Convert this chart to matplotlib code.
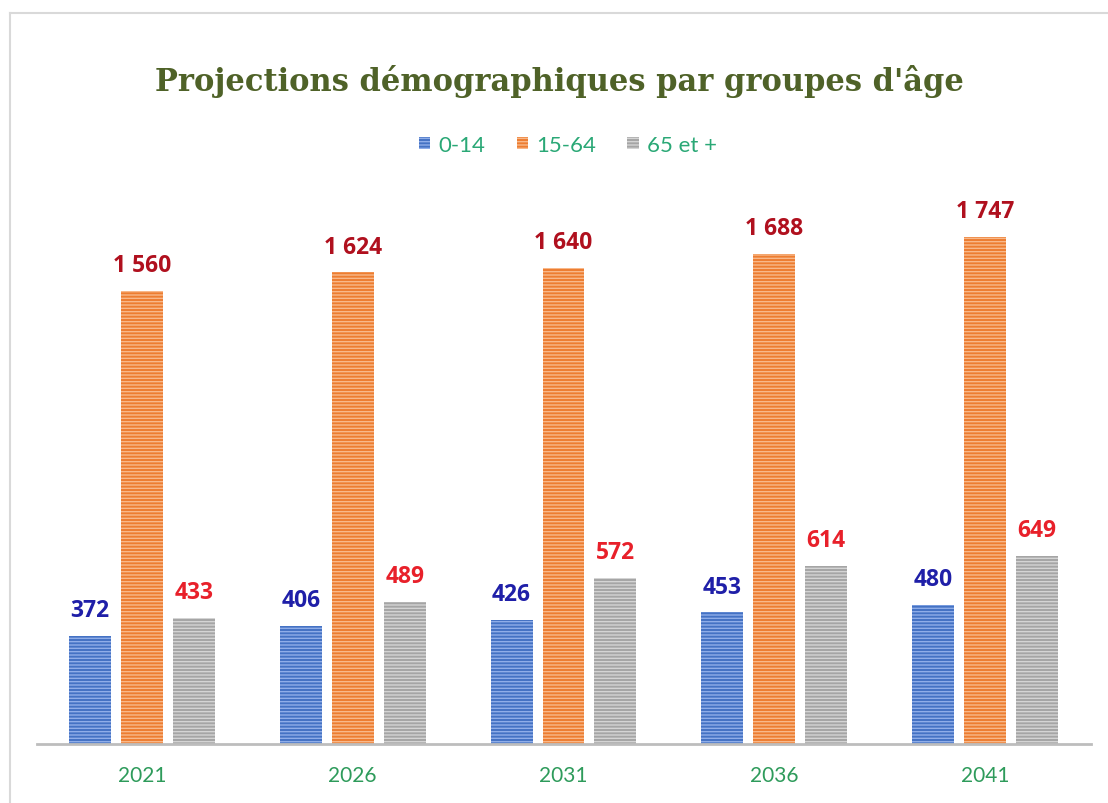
import matplotlib
matplotlib.use("Agg")
import matplotlib.pyplot as plt
import numpy as np
from matplotlib.lines import Line2D
from matplotlib.patches import Patch

years = ["2021", "2026", "2031", "2036", "2041"]
series_names = ["0-14", "15-64", "65 et +"]
v_0_14 = [372, 406, 426, 453, 480]
v_15_64 = [1560, 1624, 1640, 1688, 1747]
v_65 = [433, 489, 572, 614, 649]

face_colors = ["#4472C4", "#ED7D31", "#A5A5A5"]
hatch_colors = ["#8FADE8", "#F8B88A", "#D4D4D4"]
label_colors = ["#1F1FA8", "#B0101E", "#E8202A"]

W, H = 1108, 804
fig = plt.figure(figsize=(W / 100, H / 100), dpi=100)
plt.rcParams['hatch.linewidth'] = 1.0

base_px = 745
px_per_unit = 0.2904
ymax = 2000
ax_left = 36.5 / W
ax_right = 1090.5 / W
ax = fig.add_axes([ax_left, (H - base_px) / H, ax_right - ax_left, ymax * px_per_unit / H])

x = np.arange(len(years))
offset = 0.2464
width = 0.199
all_vals = [v_0_14, v_15_64, v_65]
for i, (vals, fc, hc, lc) in enumerate(zip(all_vals, face_colors, hatch_colors, label_colors)):
    pos = x + (i - 1) * offset
    ax.bar(pos, vals, width=width, color=fc, edgecolor=hc, linewidth=0,
           hatch="-----", zorder=2)
    for p, v in zip(pos, vals):
        txt = f"{v:,}".replace(",", " ")
        ax.annotate(txt, (p, v), xytext=(0, 10), textcoords="offset points",
                    ha="center", va="bottom", fontsize=16.5, fontweight="bold",
                    color=lc, family="Open Sans")

ax.set_xlim(-0.5, len(years) - 0.5)
ax.set_ylim(0, ymax)
for s in ["top", "right", "left"]:
    ax.spines[s].set_visible(False)
ax.spines["bottom"].set_color("#BDBDBD")
ax.spines["bottom"].set_linewidth(2)
ax.set_yticks([])
ax.set_xticks(x)
ax.set_xticklabels(years, color="#2E9B5B", fontsize=15, family="Lato")
ax.tick_params(axis="x", length=0, pad=15)

fig.text(559 / W, (H - 82) / H, "Projections démographiques par groupes d'âge",
         ha="center", va="center", fontsize=22, fontweight="bold",
         color="#4F6228", family="DejaVu Serif")

handles = [Patch(facecolor=fc, edgecolor=hc, hatch="-----", linewidth=0)
           for fc, hc in zip(face_colors, hatch_colors)]
leg = fig.legend(handles, series_names, loc="center", bbox_to_anchor=(568 / W, (H - 146) / H),
                 ncol=3, frameon=False, handlelength=0.5, handleheight=0.5,
                 handletextpad=0.4, columnspacing=1.4, prop={"family": "Lato", "size": 16})
for t in leg.get_texts():
    t.set_color("#2AA876")

fig.add_artist(Line2D([10 / W, 1.0], [(H - 14) / H, (H - 14) / H], transform=fig.transFigure,
                      color="#D9D9D9", linewidth=1.5))
fig.add_artist(Line2D([10 / W, 10 / W], [(H - 14) / H, 0], transform=fig.transFigure,
                      color="#D9D9D9", linewidth=1.5))

fig.savefig("out.png", dpi=100)
